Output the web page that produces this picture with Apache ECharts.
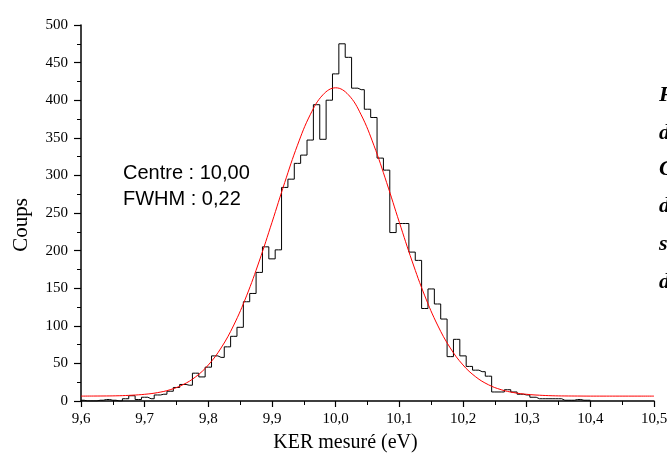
<!DOCTYPE html>
<html>
<head>
<meta charset="utf-8">
<script src="https://cdn.jsdelivr.net/npm/echarts@6/dist/echarts.min.js"></script>
<style>
html,body{margin:0;padding:0;background:#fff;}
#chart{width:667px;height:453px;}
</style>
</head>
<body>
<div id="chart"></div>
<script>
// Histogram bin centres (eV) and counts
var binCenters = [9.60,9.61,9.62,9.63,9.64,9.65,9.66,9.67,9.68,9.69,
  9.70,9.71,9.72,9.73,9.74,9.75,9.76,9.77,9.78,9.79,
  9.80,9.81,9.82,9.83,9.84,9.85,9.86,9.87,9.88,9.89,
  9.90,9.91,9.92,9.93,9.94,9.95,9.96,9.97,9.98,9.99,
  10.00,10.01,10.02,10.03,10.04,10.05,10.06,10.07,10.08,10.09,
  10.10,10.11,10.12,10.13,10.14,10.15,10.16,10.17,10.18,10.19,
  10.20,10.21,10.22,10.23,10.24,10.25,10.26,10.27,10.28,10.29,
  10.30,10.31,10.32,10.33,10.34,10.35,10.36,10.37,10.38,10.39,10.40];
var counts = [1,0,0,1,2,1,0,3,7,2,
  5,3,8,9,13,18,22,21,37,32,
  45,60,58,72,86,98,132,143,171,205,
  189,201,284,295,316,327,347,394,348,400,
  435,475,457,416,414,388,377,323,307,224,
  236,236,198,187,123,149,129,109,59,82,
  60,46,41,39,33,12,12,15,12,9,
  8,5,3,3,3,3,1,1,2,1,1];

// Fit curve (red line)
var fitX = [9.60,9.62,9.64,9.66,9.68,9.70,9.72,9.74,9.76,9.78,
  9.80,9.82,9.84,9.86,9.88,9.90,9.92,9.94,9.96,9.98,
  10.00,10.02,10.04,10.06,10.08,10.10,10.12,10.14,10.16,10.18,
  10.20,10.22,10.24,10.26,10.28,10.30,10.32,10.34,10.36,10.38,
  10.40,10.42,10.44,10.46,10.48,10.50];
var fitY = [6.5,6.6,6.7,7.0,7.7,8.9,11.1,15.0,21.6,32.1,
  47.9,70.5,101.0,139.8,186.1,237.6,290.6,340.1,380.6,407.2,
  416.5,407.2,380.6,340.1,290.6,237.6,186.1,139.8,101.0,70.5,
  47.9,32.1,21.6,15.0,11.1,8.9,7.7,7.0,6.7,6.6,
  6.5,6.5,6.5,6.5,6.5,6.5];

var annotations = ["Centre : 10,00", "FWHM : 0,22"];
var yAxisTitle = "Coups";
var sideLetters = ["F", "d", "C", "d", "s", "d"];

var histData = binCenters.map(function(x,i){return [x, counts[i]];});
var fitData = fitX.map(function(x,i){return [x, fitY[i]];});

var serif = '"Liberation Serif","Times New Roman",serif';
var sans = '"Liberation Sans",Arial,sans-serif';

var chart = echarts.init(document.getElementById('chart'));
var sideY = [95,133,169,206,244,282];
var graphics = [
  {type:'text', left:123, top:163, style:{text:annotations[0], font:'20px '+sans, fill:'#000'}},
  {type:'text', left:123, top:189, style:{text:annotations[1], font:'20px '+sans, fill:'#000'}},
  {type:'text', x:21, y:225, rotation:Math.PI/2,
    style:{text:yAxisTitle, font:'21px '+serif, fill:'#000', align:'center', verticalAlign:'middle'}}
];
sideLetters.forEach(function(ch,i){
  graphics.push({type:'text', x:659, y:sideY[i], style:{text:ch, font:'italic bold 22px '+serif, fill:'#000', verticalAlign:'middle', align:'left'}});
});

chart.setOption({
  animation:false,
  backgroundColor:'#fff',
  grid:{left:81, right:13, top:25, bottom:52, outerBoundsMode:'none'},
  xAxis:{
    type:'value', min:9.6, max:10.5, interval:0.1,
    name:'KER mesuré (eV)', nameLocation:'middle', nameGap:32,
    nameTextStyle:{fontFamily:serif, fontSize:20, color:'#000', padding:[0,44,0,0]},
    axisLine:{lineStyle:{color:'#000', width:1.5}},
    axisTick:{length:6, lineStyle:{color:'#000', width:1.2}},
    minorTick:{show:true, splitNumber:2, length:4, lineStyle:{color:'#000', width:1}},
    splitLine:{show:false},
    axisLabel:{fontFamily:serif, fontSize:15, color:'#000', margin:11,
      formatter:function(v){return v.toFixed(1).replace('.',',');}}
  },
  yAxis:{
    type:'value', min:0, max:500, interval:50,
    axisLine:{show:true, lineStyle:{color:'#000', width:1.5}},
    axisTick:{show:true, length:7, lineStyle:{color:'#000', width:1.2}},
    minorTick:{show:true, splitNumber:2, length:4, lineStyle:{color:'#000', width:1}},
    splitLine:{show:false},
    axisLabel:{fontFamily:serif, fontSize:15, color:'#000', margin:13}
  },
  series:[
    {type:'line', data:histData, step:'middle', symbol:'none',
      lineStyle:{color:'#000', width:1}, z:2},
    {type:'line', data:fitData, smooth:0.4, symbol:'none',
      lineStyle:{color:'#ff0000', width:1}, z:3}
  ],
  graphic:graphics
});
</script>
</body>
</html>
